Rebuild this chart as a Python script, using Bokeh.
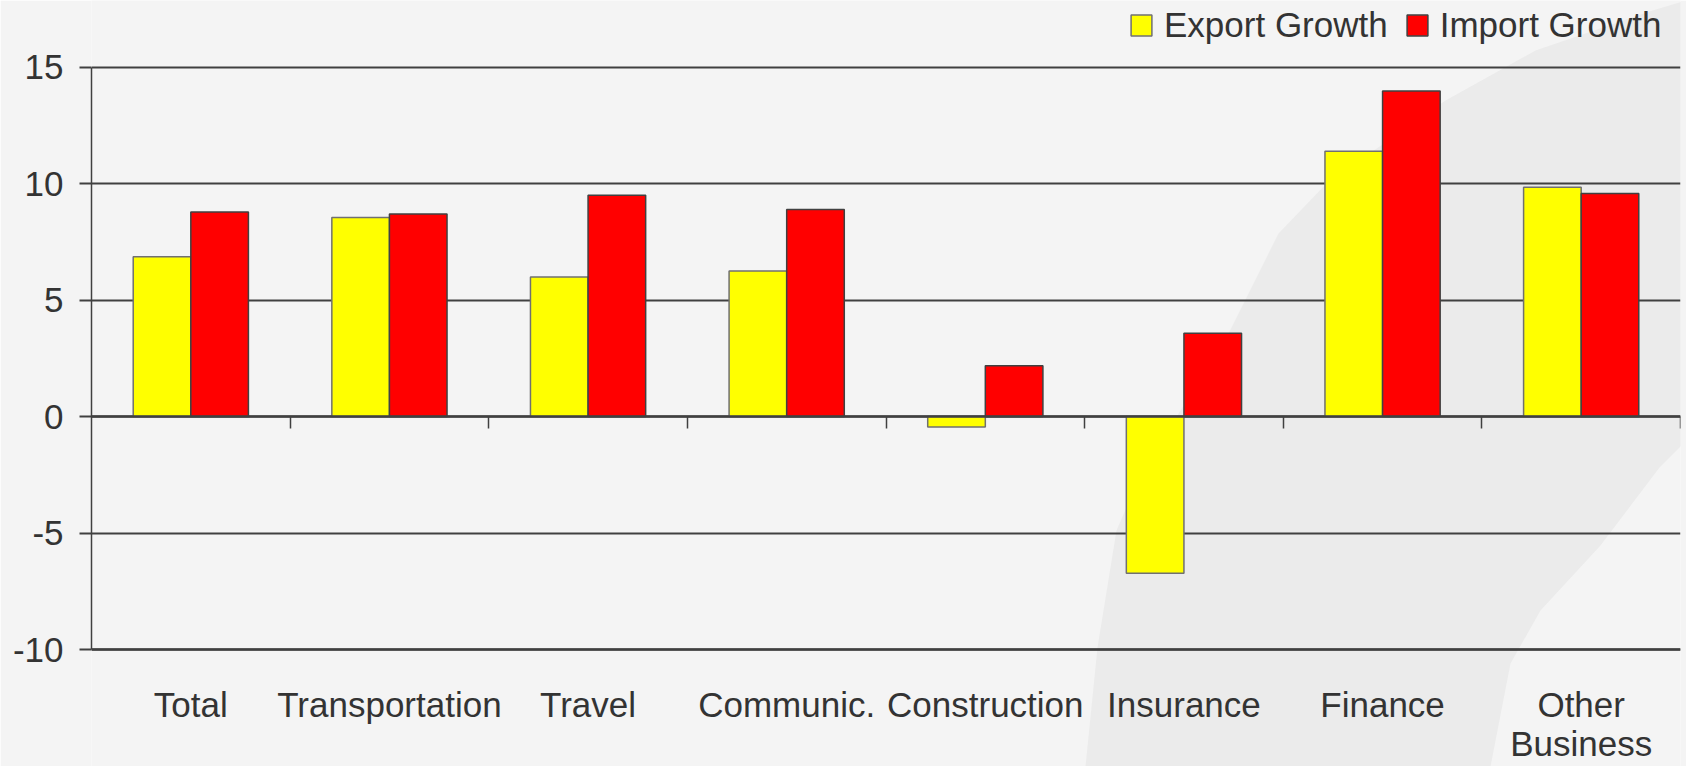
import numpy as np
from bokeh.plotting import figure
from bokeh.models import (Range1d, FixedTicker, LinearAxis, Legend, LegendItem, Grid,
                          PolyAnnotation)
from bokeh.embed import file_html
from bokeh.resources import INLINE

categories = ["Total", "Transportation", "Travel", "Communic.", "Construction",
              "Insurance", "Finance", "Other\nBusiness"]
export_growth = [6.86, 8.55, 5.99, 6.25, -0.45, -6.73, 11.39, 9.84]
import_growth = [8.78, 8.70, 9.50, 8.89, 2.18, 3.58, 13.97, 9.58]
y_ticks = [-10, -5, 0, 5, 10, 15]
y_labels = {-10: "-10", -5: "-5", 0: "0", 5: "5", 10: "10", 15: "15"}

FONT = "Liberation Sans"
TXT = "#333333"
LINE = "#404040"
BG = "#F4F4F4"
SWOOSH = "#EBEBEB"

n = len(categories)
idx = np.arange(n)
centers = idx + 0.5
bw = 0.29

# frame spans the full figure height; the axis box (-10..15) sits inside it
p = figure(width=1686, height=766, output_backend="svg", toolbar_location=None,
           x_range=Range1d(0, n), y_range=Range1d(-15.02, 17.86),
           x_axis_location=None, y_axis_location=None,
           min_border_left=91, min_border_right=6, min_border_top=0, min_border_bottom=0)
p.background_fill_color = BG
p.border_fill_color = BG
p.outline_line_color = None
p.grid.visible = False

# decorative background swoosh (canvas pixels)
swoosh_xs = [1085, 1097, 1116, 1142, 1180, 1228, 1278, 1326, 1445, 1535, 1652, 1686,
             1686, 1659, 1600, 1540, 1510, 1490]
swoosh_ys = [766, 647, 530, 470, 410, 333, 233, 183, 100, 50, 10, 0,
             440, 467, 545, 610, 663, 766]
p.add_layout(PolyAnnotation(xs=swoosh_xs, ys=swoosh_ys, xs_units="canvas", ys_units="canvas",
                            fill_color=SWOOSH, fill_alpha=1, line_color=None, level="underlay"))

p.add_layout(Grid(dimension=1, ticker=FixedTicker(ticks=y_ticks),
                  grid_line_color=LINE, grid_line_width=2))

r_exp = p.vbar(x=centers - bw / 2, top=export_growth, bottom=0, width=bw,
               fill_color="#FFFF00", line_color="#707070", line_width=1.5)
r_imp = p.vbar(x=centers + bw / 2, top=import_growth, bottom=0, width=bw,
               fill_color="#FF0000", line_color=LINE, line_width=1.5)

yaxis = LinearAxis(ticker=FixedTicker(ticks=y_ticks), major_label_overrides=y_labels,
                   bounds=(y_ticks[0], y_ticks[-1]),
                   axis_line_color=LINE, axis_line_width=1.5,
                   major_tick_out=12, major_tick_in=0, major_tick_line_color=LINE,
                   major_tick_line_width=2, minor_tick_line_color=None, major_label_standoff=16,
                   major_label_text_font=FONT, major_label_text_font_size="35px",
                   major_label_text_color=TXT)
p.add_layout(yaxis, "left")

# zero line with category separator ticks
zero_axis = LinearAxis(fixed_location=0, ticker=FixedTicker(ticks=list(range(1, n + 1))),
                       axis_line_color=LINE, axis_line_width=2.5,
                       major_tick_out=12, major_tick_in=0, major_tick_line_color=LINE,
                       major_tick_line_width=1.5, minor_tick_line_color=None,
                       major_label_text_color=None)
p.add_layout(zero_axis, "below")

# category labels under the bottom line
xaxis = LinearAxis(fixed_location=y_ticks[0], ticker=FixedTicker(ticks=[float(c) for c in centers]),
                   major_label_overrides={float(c): lab for c, lab in zip(centers, categories)},
                   axis_line_color=LINE, axis_line_width=2.5,
                   major_tick_out=0, major_tick_in=0, minor_tick_line_color=None,
                   major_label_standoff=35, major_label_text_font=FONT,
                   major_label_text_font_size="35px", major_label_text_color=TXT,
                   major_label_text_line_height=1.0)
p.add_layout(xaxis, "below")

legend = Legend(items=[LegendItem(label="Export Growth", renderers=[r_exp]),
                       LegendItem(label="Import Growth", renderers=[r_imp])],
                orientation="horizontal", location=(1037, 721),
                label_text_font=FONT, label_text_font_size="35px", label_text_color=TXT,
                glyph_width=26, glyph_height=26, label_standoff=10, spacing=16,
                padding=0, margin=0, background_fill_alpha=0, border_line_color=None)
p.add_layout(legend, "center")

open("out.html", "w").write(file_html(p, INLINE))
